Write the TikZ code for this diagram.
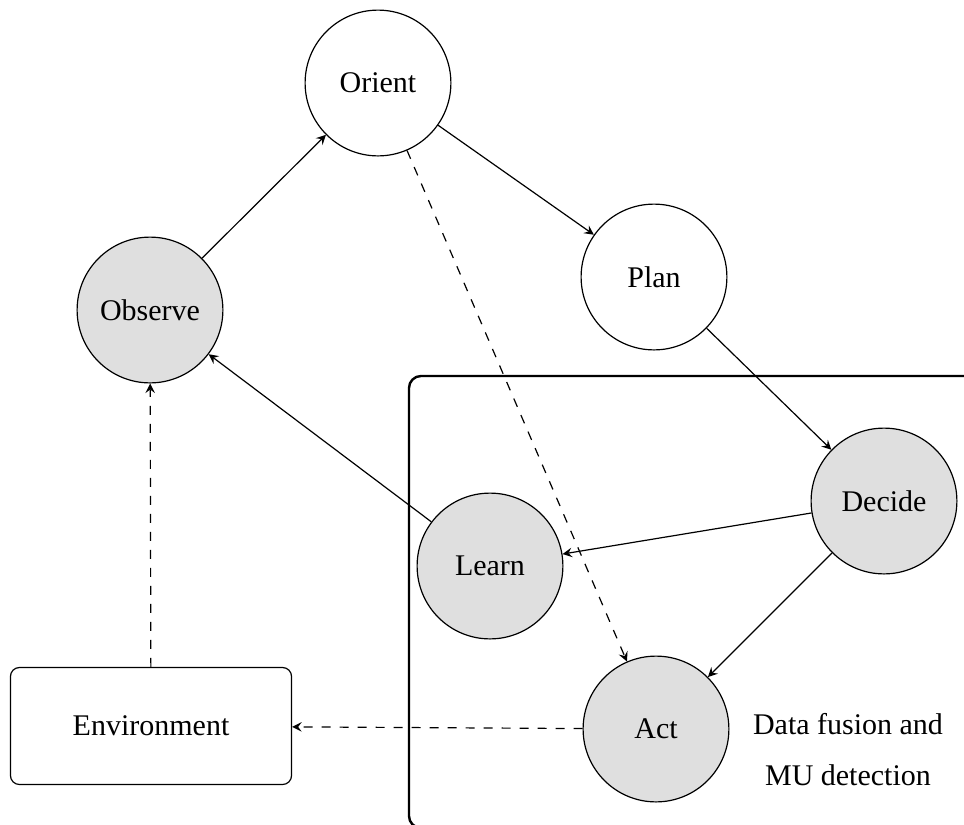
\documentclass[tikz,border=0pt]{standalone}
\usepackage{fontspec}
\setmainfont{Liberation Serif}
\usetikzlibrary{arrows}
\begin{document}
\begin{tikzpicture}[x=0.33333pt, y=-0.33333pt, >=stealth,
  stage/.style={circle, draw, line width=0.4pt, minimum size=48.6pt, inner sep=0pt, font=\fontsize{10}{12}\selectfont},
  active/.style={stage, fill=gray!25},
  envbox/.style={draw, rounded corners=3pt, minimum width=93.7pt, minimum height=39pt, font=\fontsize{10}{12}\selectfont},
  flow/.style={->, line width=0.4pt},
  feed/.style={->, dashed, line width=0.4pt}]
  \useasboundingbox (0,0) rectangle (964,825);
  \clip (0,0) rectangle (964,825);

  % region holding the data fusion and MU detection stages
  \draw[line width=0.8pt, rounded corners=4pt] (409,376) rectangle (990,828);

  \node[stage]  (orient)  at (378,83)  {Orient};
  \node[stage]  (plan)    at (654,277) {Plan};
  \node[active] (observe) at (150,310) {Observe};
  \node[active] (decide)  at (884,501) {Decide};
  \node[active] (learn)   at (490,566) {Learn};
  \node[active] (act)     at (656,729) {Act};
  \node[envbox] (env)     at (151,726) {Environment};

  \node[align=center, font=\fontsize{10}{12}\selectfont] (label) at (848,750)
    {Data fusion and\\[5pt]MU detection};

  \draw[flow] (observe) -- (orient);
  \draw[flow] (orient) -- (plan);
  \draw[flow] (plan) -- (decide);
  \draw[flow] (decide) -- (learn);
  \draw[flow] (decide) -- (act);
  \draw[flow] (learn) -- (observe);
  \draw[feed] (orient) -- (act);
  \draw[feed] (act) -- (env);
  \draw[feed] (env) -- (observe);
\end{tikzpicture}
\end{document}
